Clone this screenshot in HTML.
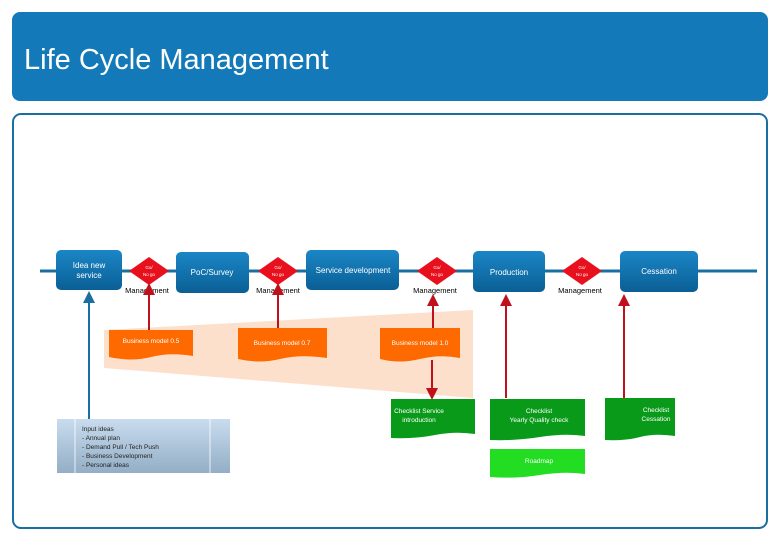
<!DOCTYPE html>
<html><head><meta charset="utf-8"><style>
body{margin:0;width:780px;height:540px;background:#fff;overflow:hidden;font-family:"Liberation Sans",sans-serif}
</style></head><body>
<svg width="780" height="540" viewBox="0 0 780 540" xmlns="http://www.w3.org/2000/svg" font-family="Liberation Sans, sans-serif">
<defs>
<linearGradient id="bg" x1="0" y1="0" x2="0" y2="1"><stop offset="0" stop-color="#1b86c6"/><stop offset="1" stop-color="#0a5f95"/></linearGradient>
<linearGradient id="ib" x1="0" y1="0" x2="0" y2="1"><stop offset="0" stop-color="#c9dcee"/><stop offset="1" stop-color="#93aec6"/></linearGradient>
<marker id="ar" markerWidth="6" markerHeight="6" refX="3" refY="3" orient="auto"><path d="M0,0L6,3L0,6z" fill="#c0101c"/></marker>
<marker id="ab" markerWidth="6" markerHeight="6" refX="3" refY="3" orient="auto"><path d="M0,0L6,3L0,6z" fill="#1a6fa0"/></marker>
</defs>
<rect x="12" y="12" width="756" height="89" rx="8" fill="#1479b8"/>
<text x="24" y="69" font-size="29" fill="#fff">Life Cycle Management</text>
<rect x="13" y="114" width="754" height="414" rx="8" fill="#fff" stroke="#1a6fa0" stroke-width="2"/>
<line x1="40" y1="271" x2="757" y2="271" stroke="#1a6fa0" stroke-width="3"/>
<polygon points="104,330 473,310 473,398 104,368" fill="#fde0cc"/>
<g fill="url(#bg)">
<rect x="56" y="250" width="66" height="40" rx="5"/>
<rect x="176" y="252" width="73" height="41" rx="5"/>
<rect x="306" y="250" width="93" height="40" rx="5"/>
<rect x="473" y="251" width="72" height="41" rx="5"/>
<rect x="620" y="251" width="78" height="41" rx="5"/>
</g>
<g fill="#fff" font-size="8" text-anchor="middle">
<text x="89" y="268">Idea new</text><text x="89" y="278">service</text>
<text x="212" y="275">PoC/Survey</text>
<text x="353" y="273">Service development</text>
<text x="509" y="275">Production</text>
<text x="659" y="274">Cessation</text>
</g>
<g fill="#e8101c">
<polygon points="149,257 169,271 149,285 129,271"/>
<polygon points="278,257 298,271 278,285 258,271"/>
<polygon points="437,257 457,271 437,285 417,271"/>
<polygon points="582,257 602,271 582,285 562,271"/>
</g>
<g fill="#fff" font-size="4.5" text-anchor="middle">
<text x="149" y="269">Go/</text><text x="149" y="276">No go</text>
<text x="278" y="269">Go/</text><text x="278" y="276">No go</text>
<text x="437" y="269">Go/</text><text x="437" y="276">No go</text>
<text x="582" y="269">Go/</text><text x="582" y="276">No go</text>
</g>
<g fill="#000" font-size="7.5" text-anchor="middle">
<text x="147" y="293">Management</text><text x="278" y="293">Management</text>
<text x="435" y="293">Management</text><text x="580" y="293">Management</text>
</g>
<g fill="#ff6a00">
<path d="M109,330H193V356Q170,352 151,357T109,357z"/>
<path d="M238,328H327V358Q300,354 280,359T238,359z"/>
<path d="M380,328H460V358Q440,354 420,359T380,359z"/>
</g>
<g fill="#fff" font-size="6.5" text-anchor="middle">
<text x="151" y="343">Business model 0.5</text>
<text x="282" y="345">Business model 0.7</text>
<text x="420" y="345">Business model 1.0</text>
</g>
<g stroke="#c0101c" stroke-width="2" marker-end="url(#ar)">
<line x1="149" y1="330" x2="149" y2="289"/>
<line x1="278" y1="328" x2="278" y2="289"/>
<line x1="433" y1="328" x2="433" y2="300"/>
<line x1="432" y1="360" x2="432" y2="394"/>
<line x1="506" y1="398" x2="506" y2="300"/>
<line x1="624" y1="398" x2="624" y2="300"/>
</g>
<line x1="89" y1="420" x2="89" y2="297" stroke="#1a6fa0" stroke-width="2" marker-end="url(#ab)"/>
<rect x="57" y="419" width="173" height="54" fill="url(#ib)"/>
<line x1="75" y1="419" x2="75" y2="473" stroke="#fff" stroke-width="0.8"/>
<line x1="210" y1="419" x2="210" y2="473" stroke="#fff" stroke-width="0.8"/>
<g font-size="6.5" fill="#222">
<text x="82" y="431">Input ideas</text>
<text x="82" y="440">- Annual plan</text>
<text x="82" y="449">- Demand Pull / Tech Push</text>
<text x="82" y="458">- Business Development</text>
<text x="82" y="467">- Personal ideas</text>
</g>
<g fill="#0a9a1a">
<path d="M391,399H475V434Q455,431 435,435T391,438z"/>
<path d="M490,399H585V436Q565,433 540,437T490,440z"/>
<path d="M605,398H675V436Q655,433 640,437T605,440z"/>
</g>
<path d="M490,449H585V474Q565,471 540,475T490,477z" fill="#22dd22"/>
<g fill="#fff" font-size="6.5" text-anchor="middle">
<text x="419" y="413">Checklist Service</text><text x="419" y="422">introduction</text>
<text x="539" y="413">Checklist</text><text x="539" y="422">Yearly Quality check</text>
<text x="656" y="412">Checklist</text><text x="656" y="421">Cessation</text>
<text x="539" y="463">Roadmap</text>
</g>
</svg>
</body></html>
